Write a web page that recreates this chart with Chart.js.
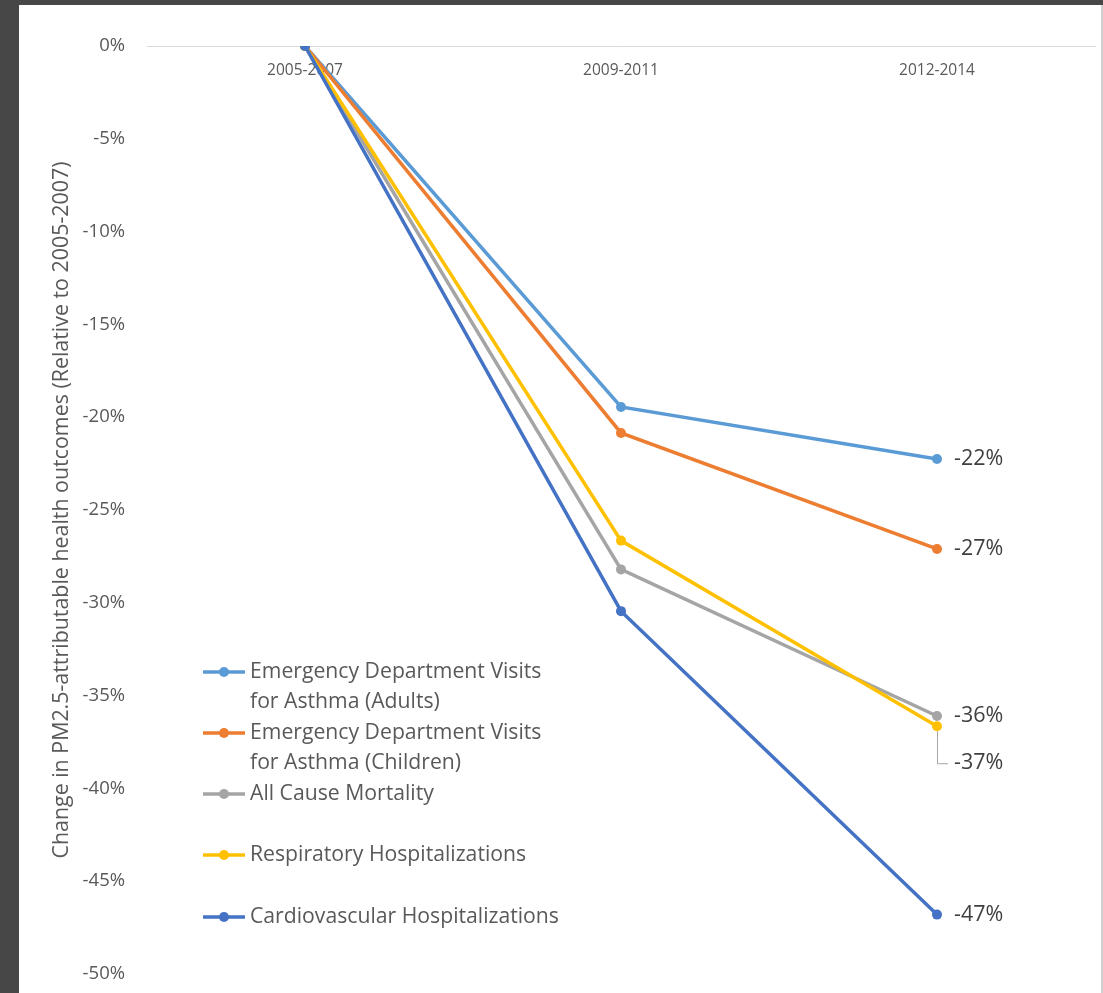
<!DOCTYPE html>
<html>
<head>
<meta charset="utf-8">
<script src="https://cdn.jsdelivr.net/npm/chart.js@4"></script>
<style>
  html, body { margin: 0; padding: 0; background: #474747; }
  #wrap { position: absolute; left: 0; top: 0; width: 1103px; height: 993px; }
</style>
</head>
<body>
<div id="wrap"><canvas id="healthChart" width="1103" height="993"></canvas></div>
<script>
// data
const periods = ['2005-2007', '2009-2011', '2012-2014'];
const seriesNames = [
    ['Emergency Department Visits', 'for Asthma (Adults)'],
    ['Emergency Department Visits', 'for Asthma (Children)'],
    ['All Cause Mortality'],
    ['Respiratory Hospitalizations'],
    ['Cardiovascular Hospitalizations']
];
const asthmaAdults = [0, -19.45, -22.25];
const asthmaChildren = [0, -20.85, -27.1];
const allCauseMortality = [0, -28.2, -36.1];
const respiratoryHosp = [0, -26.65, -36.65];
const cardiovascularHosp = [0, -30.45, -46.8];
const endLabels = ['-22%', '-27%', '-36%', '-37%', '-47%'];
const colors = ['#5B9BD5', '#ED7D31', '#A5A5A5', '#FFC000', '#4472C4'];

const FONT = '"Open Sans", Lato, sans-serif';

// panel background: dark frame with a white sheet
Chart.register({
    id: 'panel-bg',
    beforeDraw: (chart) => {
        const ctx = chart.ctx;
        ctx.save();
        ctx.fillStyle = '#474747';
        ctx.fillRect(0, 0, chart.width, chart.height);
        ctx.fillStyle = '#ffffff';
        ctx.fillRect(19, 5, chart.width - 19, chart.height - 5);
        ctx.fillStyle = '#d0d0d0';
        ctx.fillRect(chart.width - 2, 5, 2, chart.height - 5);
        ctx.restore();
    }
});

// end-of-line value labels
const endLabelPlugin = {
    id: 'end-labels',
    afterDatasetsDraw: (chart) => {
        const ctx = chart.ctx;
        ctx.save();
        ctx.font = '21.5px ' + FONT;
        ctx.fillStyle = '#404040';
        ctx.textBaseline = 'middle';
        ctx.textAlign = 'left';
        chart.data.datasets.forEach((ds, i) => {
            const pt = chart.getDatasetMeta(i).data[2];
            let y = pt.y;
            if (i === 3) {
                // pushed down with a leader line
                y = pt.y + 37;
                ctx.strokeStyle = '#a6a6a6';
                ctx.lineWidth = 1;
                ctx.beginPath();
                ctx.moveTo(pt.x + 0.5, pt.y + 5);
                ctx.lineTo(pt.x + 0.5, y + 0.5);
                ctx.lineTo(pt.x + 11, y + 0.5);
                ctx.stroke();
            }
            ctx.fillText(endLabels[i], pt.x + 17, y);
        });
        ctx.restore();
    }
};

// legend drawn inside the plot area, lower left
const legendPlugin = {
    id: 'inner-legend',
    afterDraw: (chart) => {
        const ctx = chart.ctx;
        const x0 = 203, tops = [672, 733, 794, 855, 917];
        ctx.save();
        ctx.font = '21.2px ' + FONT;
        ctx.textBaseline = 'middle';
        ctx.textAlign = 'left';
        chart.data.datasets.forEach((ds, i) => {
            const y = tops[i];
            ctx.strokeStyle = ds.borderColor;
            ctx.lineWidth = 3.5;
            ctx.beginPath();
            ctx.moveTo(x0, y);
            ctx.lineTo(x0 + 42, y);
            ctx.stroke();
            ctx.fillStyle = ds.borderColor;
            ctx.beginPath();
            ctx.arc(x0 + 21, y, 5, 0, Math.PI * 2);
            ctx.fill();
            ctx.fillStyle = '#595959';
            seriesNames[i].forEach((line, k) => {
                ctx.fillText(line, x0 + 47, y + k * 30);
            });
        });
        ctx.restore();
    }
};

const seriesData = [asthmaAdults, asthmaChildren, allCauseMortality, respiratoryHosp, cardiovascularHosp];

const ctx = document.getElementById('healthChart').getContext('2d');
const healthChart = new Chart(ctx, {
    type: 'line',
    data: {
        labels: periods,
        datasets: seriesData.map((vals, i) => ({
            label: seriesNames[i].join(' '),
            data: vals,
            borderColor: colors[i],
            backgroundColor: colors[i],
            borderWidth: 3.5,
            pointRadius: 5,
            pointBorderWidth: 0,
            pointBackgroundColor: colors[i],
            tension: 0,
            order: 5 - i
        }))
    },
    options: {
        responsive: false,
        animation: false,
        layout: { padding: { left: 45, top: 46, right: 8, bottom: 19 } },
        plugins: {
            legend: { display: false },
            tooltip: { enabled: false }
        },
        scales: {
            x: {
                position: { y: 0 },
                offset: true,
                afterFit: (scale) => { scale.height = 0; },
                grid: { display: false, drawTicks: true, tickLength: 12 },
                border: { display: true, color: '#d9d9d9', width: 1 },
                ticks: {
                    color: '#595959',
                    font: { family: FONT, size: 15.5 },
                    maxRotation: 0,
                    padding: 3
                }
            },
            y: {
                min: -50,
                max: 0,
                afterFit: (scale) => { scale.width = 102; },
                grid: { display: false, drawTicks: true, tickLength: 19 },
                border: { display: false },
                ticks: {
                    stepSize: 5,
                    padding: 3,
                    color: '#595959',
                    font: { family: FONT, size: 18.5 },
                    callback: (v) => v + '%'
                },
                title: {
                    display: true,
                    text: 'Change in PM2.5-attributable health outcomes (Relative to 2005-2007)',
                    color: '#595959',
                    font: { family: FONT, size: 21.4 },
                    padding: { top: 4, bottom: 4 }
                }
            }
        }
    },
    plugins: [endLabelPlugin, legendPlugin]
});
</script>
</body>
</html>
